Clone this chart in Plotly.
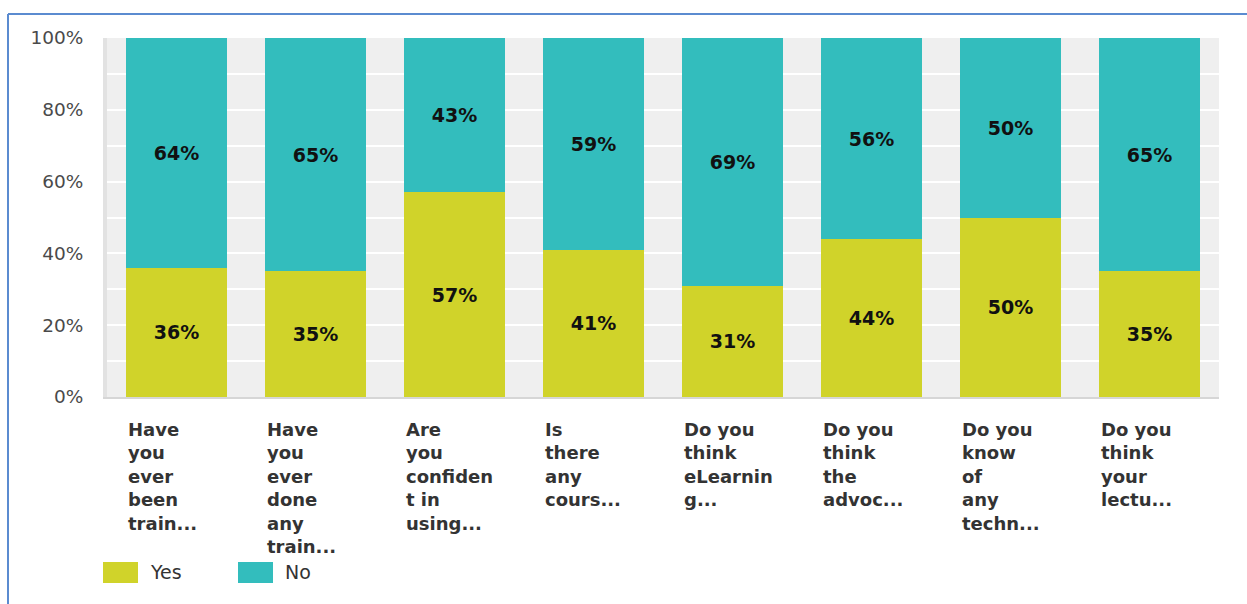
import plotly.graph_objects as go

# Survey questions (truncated as displayed) and answer shares in percent
questions = [
    "Have<br>you<br>ever<br>been<br>train...",
    "Have<br>you<br>ever<br>done<br>any<br>train...",
    "Are<br>you<br>confiden<br>t in<br>using...",
    "Is<br>there<br>any<br>cours...",
    "Do you<br>think<br>eLearnin<br>g...",
    "Do you<br>think<br>the<br>advoc...",
    "Do you<br>know<br>of<br>any<br>techn...",
    "Do you<br>think<br>your<br>lectu...",
]
yes_pct = [36, 35, 57, 41, 31, 44, 50, 35]
no_pct = [64, 65, 43, 59, 69, 56, 50, 65]
series_names = ["Yes", "No"]
y_ticks = [0, 20, 40, 60, 80, 100]

YES_COLOR = "#d0d32a"
NO_COLOR = "#33bdbd"
FONT = "DejaVu Sans"
BAR_WIDTH = 0.72

x_pos = list(range(len(questions)))

fig = go.Figure()
for name, vals, color in [(series_names[0], yes_pct, YES_COLOR),
                          (series_names[1], no_pct, NO_COLOR)]:
    fig.add_trace(go.Bar(
        x=x_pos, y=vals, name=name, width=BAR_WIDTH,
        marker=dict(color=color, line=dict(width=0)),
        text=[f"{v}%" for v in vals],
        textposition="inside", insidetextanchor="middle",
        textfont=dict(family=FONT, size=19, color="#111111", weight="bold"),
        constraintext="none",
        showlegend=False,
    ))

# Category labels, left-aligned under each bar
annotations = []
for i, q in enumerate(questions):
    annotations.append(dict(
        x=i - BAR_WIDTH / 2, xref="x", xanchor="left",
        y=0, yref="paper", yanchor="top", yshift=-20,
        text=q, align="left", showarrow=False,
        font=dict(family=FONT, size=18, color="#333333", weight="bold"),
    ))

# Legend drawn as swatches with labels
shapes = []
legend_x = [-4, 131]
for k, (name, color) in enumerate(zip(series_names, [YES_COLOR, NO_COLOR])):
    shapes.append(dict(
        type="rect", xref="paper", yref="paper",
        xsizemode="pixel", ysizemode="pixel", xanchor=0, yanchor=0,
        x0=legend_x[k], x1=legend_x[k] + 35, y0=-165, y1=-186,
        fillcolor=color, line=dict(width=0), layer="above",
    ))
    annotations.append(dict(
        x=0, xref="paper", xshift=legend_x[k] + 45, xanchor="left",
        y=0, yref="paper", yshift=-175, yanchor="middle",
        text=name, showarrow=False,
        font=dict(family=FONT, size=19, color="#333333"),
    ))

# Outer frame (top and left edges)
frame = dict(color="#5b8bd0", width=2)
shapes.append(dict(type="line", xref="paper", yref="paper",
                   xsizemode="pixel", ysizemode="pixel", xanchor=0, yanchor=1,
                   x0=-99, x1=1150, y0=24, y1=24, line=frame))
shapes.append(dict(type="line", xref="paper", yref="paper",
                   xsizemode="pixel", ysizemode="pixel", xanchor=0, yanchor=1,
                   x0=-99, x1=-99, y0=24, y1=-580, line=frame))

fig.update_layout(
    width=1247, height=604,
    margin=dict(l=107, r=28, t=38, b=207),
    barmode="stack",
    paper_bgcolor="white",
    plot_bgcolor="#efefef",
    annotations=annotations,
    shapes=shapes,
    showlegend=False,
    xaxis=dict(
        range=[-0.5, len(questions) - 0.5],
        showticklabels=False, showgrid=False, zeroline=False,
        showline=True, linecolor="#d6d6d6", linewidth=2,
        fixedrange=True,
    ),
    yaxis=dict(
        range=[0, 100], tickvals=y_ticks,
        ticktext=[f"{v}%" for v in y_ticks],
        tickfont=dict(family=FONT, size=18.5, color="#4a4a4a"),
        ticks="", ticklabelstandoff=16,
        showgrid=True, gridcolor="white", gridwidth=2,
        minor=dict(dtick=10, showgrid=True, gridcolor="white", gridwidth=2),
        zeroline=False,
        showline=True, linecolor="#e2e2e2", linewidth=4,
        fixedrange=True,
    ),
)

fig.write_html("out.html")
